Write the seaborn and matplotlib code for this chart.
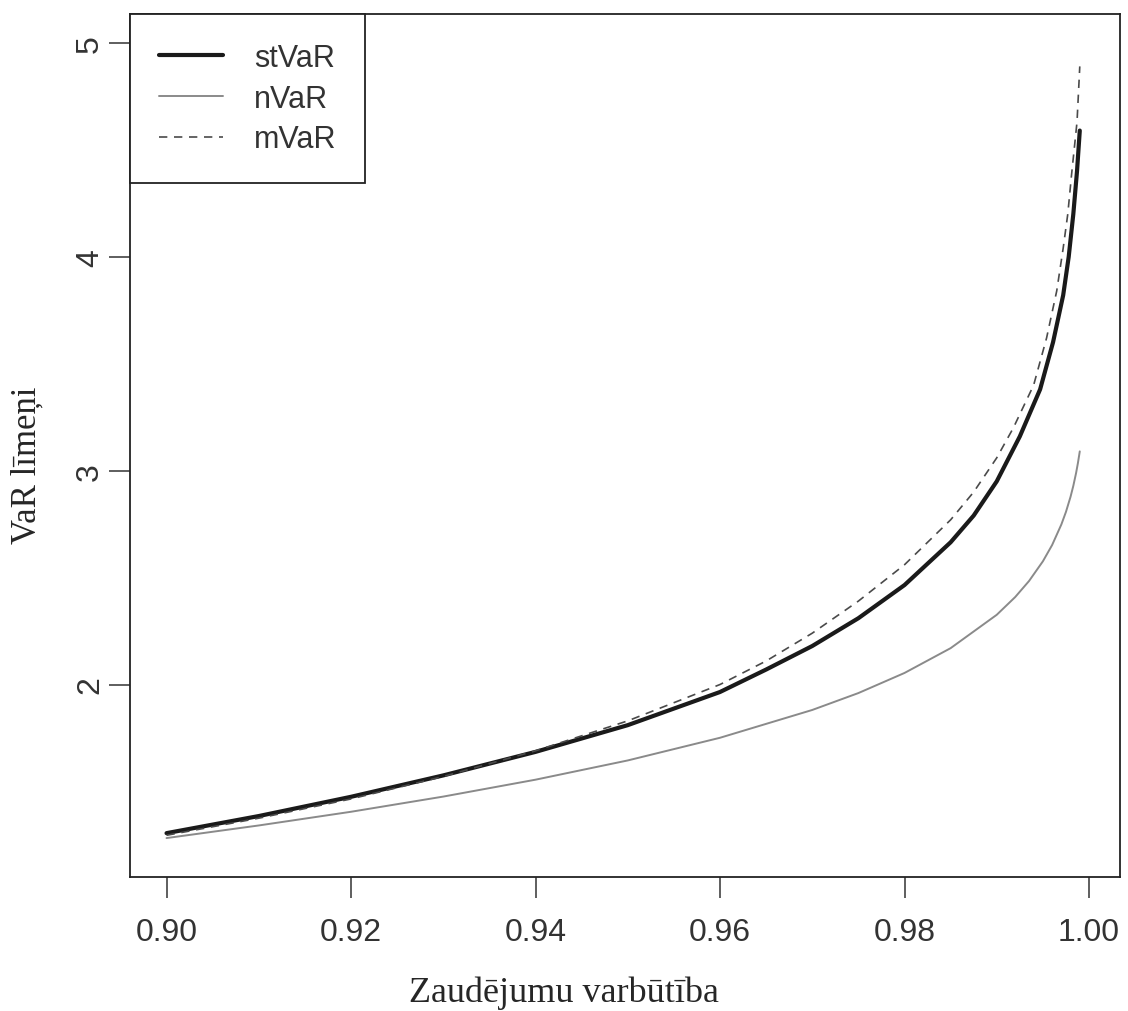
import numpy as np
import pandas as pd
import matplotlib
matplotlib.use("Agg")
import matplotlib.pyplot as plt
import seaborn as sns

# ---- data ----
p_st = [0.900, 0.910, 0.920, 0.930, 0.940, 0.950, 0.960, 0.965, 0.970, 0.975,
        0.980, 0.985, 0.9875, 0.990, 0.9925, 0.9947, 0.9961, 0.9972, 0.9978,
        0.9983, 0.9987, 0.999]
st_var = [1.305, 1.385, 1.475, 1.575, 1.685, 1.810, 1.965, 2.070, 2.180, 2.310,
          2.465, 2.665, 2.790, 2.950, 3.160, 3.380, 3.600, 3.820, 4.000,
          4.200, 4.400, 4.590]

p_n = [0.900, 0.910, 0.920, 0.930, 0.940, 0.950, 0.960, 0.970, 0.975, 0.980,
       0.985, 0.990, 0.992, 0.9935, 0.995, 0.996, 0.997, 0.9975, 0.998,
       0.9983, 0.9986, 0.9988, 0.999]
n_var = [1.282, 1.341, 1.405, 1.476, 1.555, 1.645, 1.751, 1.881, 1.960, 2.054,
         2.170, 2.326, 2.409, 2.484, 2.576, 2.652, 2.748, 2.807, 2.878,
         2.929, 2.989, 3.036, 3.090]

p_m = [0.900, 0.910, 0.920, 0.930, 0.940, 0.950, 0.960, 0.965, 0.970, 0.975,
       0.980, 0.985, 0.9875, 0.990, 0.9918, 0.9940, 0.9954, 0.9965, 0.9972,
       0.9977, 0.9981, 0.9987, 0.999]
m_var = [1.295, 1.375, 1.465, 1.570, 1.690, 1.830, 2.000, 2.110, 2.240, 2.390,
         2.560, 2.770, 2.900, 3.060, 3.200, 3.400, 3.620, 3.840, 4.040,
         4.200, 4.380, 4.630, 4.890]

series_names = ["stVaR", "nVaR", "mVaR"]
x_ticks = [0.90, 0.92, 0.94, 0.96, 0.98, 1.00]
x_ticklabels = ["0.90", "0.92", "0.94", "0.96", "0.98", "1.00"]
y_ticks = [2, 3, 4, 5]
x_label = "Zaudējumu varbūtība"
y_label = "VaR līmeņi"

sns.set_style("ticks")
plt.rcParams["font.family"] = ["Liberation Sans", "DejaVu Sans"]

fig = plt.figure(figsize=(11.28, 10.12), dpi=100)
ax = fig.add_axes([130 / 1128, 1 - 878 / 1012, 990 / 1128, 863 / 1012])

sns.lineplot(x=p_st, y=st_var, ax=ax, color="#1a1a1a", linewidth=3.0,
             label=series_names[0], estimator=None, sort=False)
sns.lineplot(x=p_n, y=n_var, ax=ax, color="#8a8a8a", linewidth=1.4,
             label=series_names[1], estimator=None, sort=False)
sns.lineplot(x=p_m, y=m_var, ax=ax, color="#4a4a4a", linewidth=1.2,
             label=series_names[2], estimator=None, sort=False)
ax.lines[2].set_dashes([5, 4])

ax.set_xlim(0.89604, 1.00336)
ax.set_ylim(1.10, 5.135)
ax.set_xticks(x_ticks)
ax.set_xticklabels(x_ticklabels)
ax.set_yticks(y_ticks)
ax.set_yticklabels([str(v) for v in y_ticks], rotation=90, va="center")

ax.tick_params(axis="both", direction="out", length=15, width=1.1,
               color="#333333", labelsize=23, labelcolor="#333333")
ax.tick_params(axis="x", pad=14)
ax.tick_params(axis="y", pad=3)

for s in ax.spines.values():
    s.set_visible(True)
    s.set_color("#222222")
    s.set_linewidth(1.3)

ax.set_xlabel(x_label, fontfamily=["Liberation Serif", "DejaVu Serif"],
              fontsize=26, va="center")
ax.set_ylabel(y_label, fontfamily=["Liberation Serif", "DejaVu Serif"],
              fontsize=25, va="center")
# place axis titles at their pixel positions in the reference
ax.xaxis.set_label_coords((564 - 130) / 990, (878 - 993) / 863)
ax.yaxis.set_label_coords((27 - 130) / 990, (878 - 465) / 863)

leg = ax.legend(loc="upper left", bbox_to_anchor=(0, 1), borderaxespad=0,
                fontsize=22, frameon=True, fancybox=False, handlelength=2.1,
                handletextpad=1.0, labelspacing=0.35, borderpad=0.95,
                labelcolor="#333333")
leg.get_frame().set_edgecolor("#222222")
leg.get_frame().set_linewidth(1.3)
leg.get_frame().set_alpha(1)
for t in leg.get_texts():
    t.set_fontfamily(["Liberation Sans", "DejaVu Sans"])

fig.savefig("out.png", dpi=100)
